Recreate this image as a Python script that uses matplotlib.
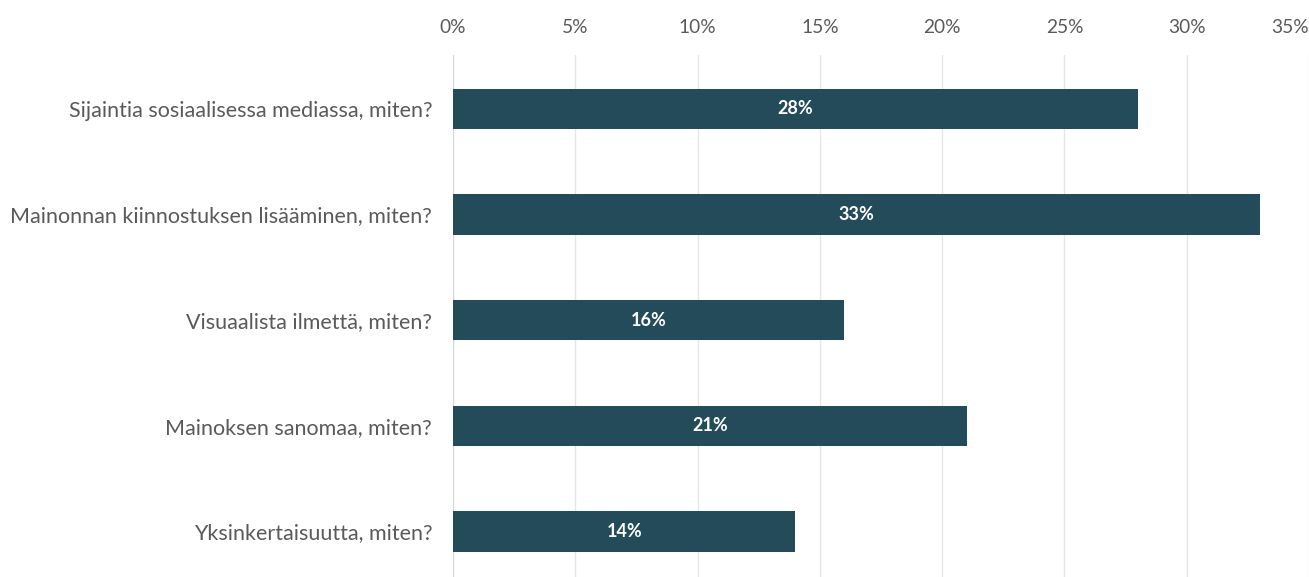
import matplotlib.pyplot as plt

plt.rcParams['font.family'] = ['Lato', 'DejaVu Sans']

questions = [
    "Sijaintia sosiaalisessa mediassa, miten?",
    "Mainonnan kiinnostuksen lisääminen, miten?",
    "Visuaalista ilmettä, miten?",
    "Mainoksen sanomaa, miten?",
    "Yksinkertaisuutta, miten?",
]
shares = [28, 33, 16, 21, 14]
ticks = [0, 5, 10, 15, 20, 25, 30, 35]

bar_color = '#234b5a'
text_color = '#5a5a5a'

fig = plt.figure(figsize=(13.09, 5.77), dpi=100)
ax = fig.add_axes([453 / 1309, 0, 1 - 453 / 1309, 1 - 55 / 577])

pos = range(len(questions))
ax.barh(pos, shares, height=0.38, color=bar_color, zorder=3)
for p, v in zip(pos, shares):
    ax.text(v / 2, p, f"{v}%", ha='center', va='center', color='white',
            fontsize=13, fontweight='bold', zorder=4)

ax.set_xlim(0, 35)
ax.set_ylim(4.43, -0.51)
ax.set_yticks(list(pos))
ax.set_yticklabels(questions, fontsize=15.5, color=text_color)
ax.tick_params(axis='y', length=0, pad=15)

ax.xaxis.tick_top()
ax.set_xticks(ticks)
ax.set_xticklabels([f"{t}%" for t in ticks], fontsize=13.8, color=text_color)
ax.tick_params(axis='x', length=0, pad=14)
ax.get_xticklabels()[-1].set_horizontalalignment('right')

ax.grid(axis='x', color='#e6e6e6', linewidth=1, zorder=0)
for s in ['top', 'right', 'bottom']:
    ax.spines[s].set_visible(False)
ax.spines['left'].set_color('#d0d6e2')

fig.savefig('out.png', dpi=100)
